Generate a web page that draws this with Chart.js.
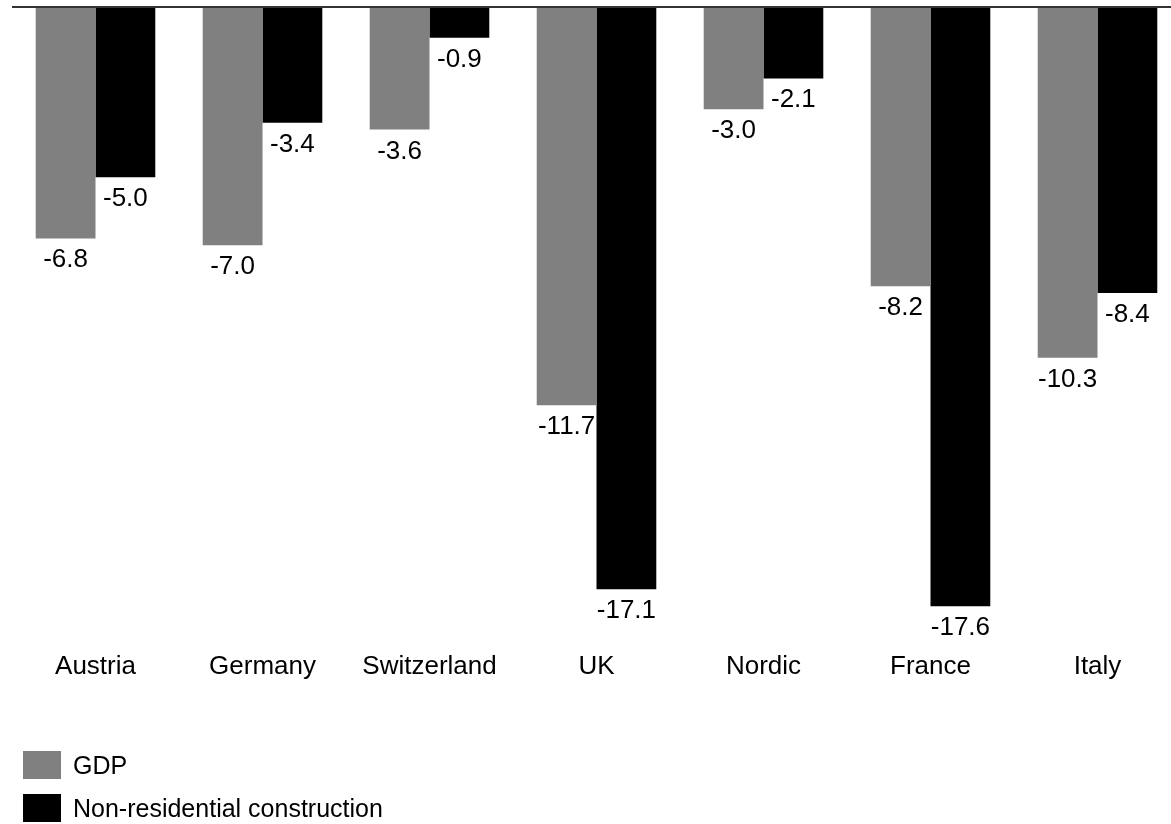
<!DOCTYPE html>
<html>
<head>
<meta charset="utf-8">
<script src="https://cdn.jsdelivr.net/npm/chart.js@4/dist/chart.umd.min.js"></script>
<style>
  html, body { margin: 0; padding: 0; background: #fff; overflow: hidden; }
  #wrap { width: 1171px; height: 824px; position: relative; overflow: hidden; }
  #c { display: block; }
</style>
</head>
<body>
<div id="wrap"><canvas id="c" width="1181" height="824"></canvas></div>
<script>
// Percentage change by region
const categories = ['Austria', 'Germany', 'Switzerland', 'UK', 'Nordic', 'France', 'Italy'];
const gdp = [-6.8, -7.0, -3.6, -11.7, -3.0, -8.2, -10.3];
const nonResConstruction = [-5.0, -3.4, -0.9, -17.1, -2.1, -17.6, -8.4];
const seriesNames = ['GDP', 'Non-residential construction'];
const seriesColors = ['#808080', '#000000'];

const FONT = '"Liberation Sans", Arial, Helvetica, sans-serif';
const FONT_SIZE = 26;
const LEGEND_FONT_SIZE = 25;

// Zero line across the top of the plot, drawn over the bars
const zeroLine = {
  id: 'zeroLine',
  afterDatasetsDraw(chart) {
    const { ctx, chartArea } = chart;
    const y = chart.scales.y.getPixelForValue(0);
    ctx.save();
    ctx.strokeStyle = '#333333';
    ctx.lineWidth = 2;
    ctx.beginPath();
    ctx.moveTo(chartArea.left, y);
    ctx.lineTo(chart.width, y);
    ctx.stroke();
    ctx.restore();
  }
};

// Value labels under the end of each bar
const valueLabels = {
  id: 'valueLabels',
  afterDatasetsDraw(chart) {
    const { ctx } = chart;
    ctx.save();
    ctx.font = FONT_SIZE + 'px ' + FONT;
    ctx.fillStyle = '#000';
    ctx.textAlign = 'center';
    ctx.textBaseline = 'alphabetic';
    chart.data.datasets.forEach((ds, di) => {
      const meta = chart.getDatasetMeta(di);
      meta.data.forEach((bar, i) => {
        ctx.fillText(ds.data[i].toFixed(1), bar.x, bar.y + 29);
      });
    });
    ctx.restore();
  }
};

// Vertical legend in the lower-left corner
const stackedLegend = {
  id: 'stackedLegend',
  afterDraw(chart) {
    const { ctx } = chart;
    ctx.save();
    ctx.font = LEGEND_FONT_SIZE + 'px ' + FONT;
    ctx.textAlign = 'left';
    ctx.textBaseline = 'alphabetic';
    chart.data.datasets.forEach((ds, i) => {
      const top = 751 + i * 43;
      ctx.fillStyle = ds.backgroundColor;
      ctx.fillRect(23, top, 38, 28);
      ctx.fillStyle = '#000';
      ctx.fillText(ds.label, 73, top + 23);
    });
    ctx.restore();
  }
};

new Chart(document.getElementById('c'), {
  type: 'bar',
  data: {
    labels: categories,
    datasets: [
      { label: seriesNames[0], data: gdp, backgroundColor: seriesColors[0] },
      { label: seriesNames[1], data: nonResConstruction, backgroundColor: seriesColors[1] }
    ]
  },
  options: {
    responsive: false,
    animation: false,
    devicePixelRatio: 1,
    categoryPercentage: 0.716,
    barPercentage: 1.0,
    layout: { padding: { top: 7, left: 12, right: 0, bottom: 128 } },
    plugins: {
      legend: { display: false },
      tooltip: { enabled: false }
    },
    scales: {
      x: {
        grid: { display: false, drawTicks: false },
        border: { display: false },
        ticks: { color: '#000', font: { family: FONT, size: FONT_SIZE }, padding: 14, maxRotation: 0, autoSkip: false }
      },
      y: {
        display: false,
        min: -18.5,
        max: 0
      }
    }
  },
  plugins: [zeroLine, valueLabels, stackedLegend]
});
</script>
</body>
</html>
